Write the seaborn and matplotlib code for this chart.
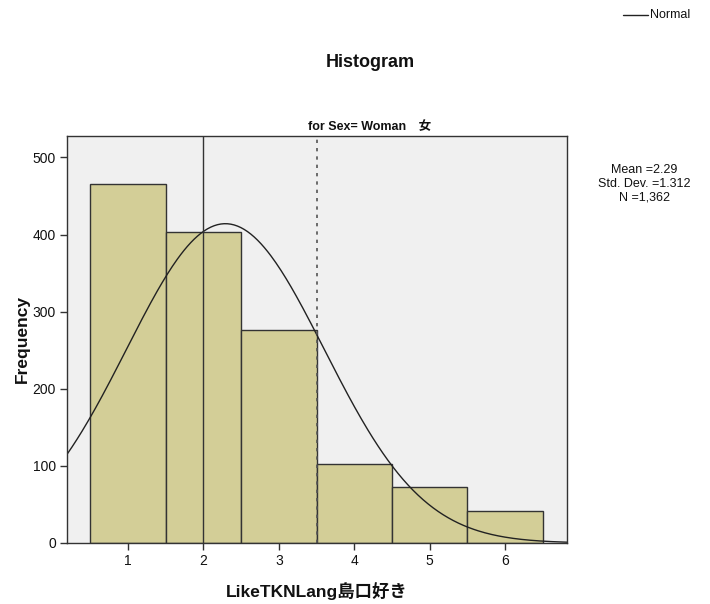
import numpy as np
import pandas as pd
import seaborn as sns
import matplotlib.pyplot as plt

# values
scores = [1, 2, 3, 4, 5, 6]
counts = [466, 404, 276, 103, 72, 41]
mean_val = 2.29
sd_val = 1.312
n_total = 1362
ref_solid = 2.0
ref_dashed = 3.5
y_ticks = [0, 100, 200, 300, 400, 500]

sns.set_style("white")
plt.rcParams['font.family'] = ['Liberation Sans', 'Noto Sans CJK JP', 'DejaVu Sans']
plt.rcParams['text.color'] = '#111111'

df = pd.DataFrame({"score": scores, "count": counts})

fig = plt.figure(figsize=(7.1, 6.04), dpi=100)
ax = fig.add_axes([0.0944, 0.101, 0.704, 0.674])
ax.set_facecolor("#F0F0F0")

sns.histplot(data=df, x="score", weights="count", discrete=True, ax=ax,
             color="#D3CE97", edgecolor="#333333", linewidth=1.0, alpha=1)

# normal curve scaled to the counts (bin width 1)
xs = np.linspace(0.19, 6.82, 300)
ys = n_total / (sd_val * np.sqrt(2 * np.pi)) * np.exp(-0.5 * ((xs - mean_val) / sd_val) ** 2)
sns.lineplot(x=xs, y=ys, ax=ax, color="#222222", linewidth=1.0)

ax.axvline(ref_solid, color="#333333", linewidth=1.0)
ax.axvline(ref_dashed, color="#555555", linewidth=1.2, linestyle=(0, (2, 3)))

ax.set_xlim(0.19, 6.82)
ax.set_ylim(0, 528)
ax.set_xticks(scores)
ax.set_yticks(y_ticks)
ax.tick_params(axis="both", direction="out", length=5, width=1, color="#333333",
               labelsize=10, labelcolor="#111111", left=True, bottom=True, pad=3)
for s in ax.spines.values():
    s.set_color("#333333")
    s.set_linewidth(1.0)

ax.set_xlabel("LikeTKNLang島口好き", fontsize=12.5, fontweight="bold", labelpad=10, color="#111111")
ax.set_ylabel("Frequency", fontsize=12.5, fontweight="bold", labelpad=2, color="#111111")

fig.text(0.521, 0.897, "Histogram", ha="center", va="center", fontsize=13, fontweight="bold")
fig.text(0.521, 0.79, "for Sex= Woman\u3000女", ha="center", va="center",
         fontsize=9, fontweight="bold")

# legend in the top-right corner
fig.lines.append(plt.Line2D([0.878, 0.912], [0.975, 0.975], transform=fig.transFigure,
                            color="#222222", linewidth=1.0))
fig.text(0.916, 0.975, "Normal", ha="left", va="center", fontsize=9)

fig.text(0.908, 0.728, "Mean =2.29\nStd. Dev. =1.312\nN =1,362", ha="center", va="top",
         fontsize=9, linespacing=1.2)

fig.savefig("out.png", dpi=100)
